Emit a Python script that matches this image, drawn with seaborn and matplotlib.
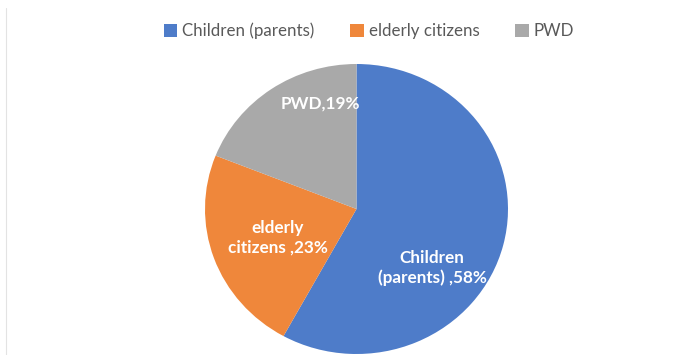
import matplotlib
matplotlib.use("Agg")
import matplotlib.pyplot as plt
from matplotlib.patches import Patch
from matplotlib.lines import Line2D
import seaborn as sns

categories = ["Children (parents)", "elderly citizens", "PWD"]
values = [58, 23, 19]
slice_labels = ["Children\n(parents) ,58%", "elderly\ncitizens ,23%", "PWD,19%"]
colors = ["#4E7CC9", "#EF873B", "#A9A9A9"]

sns.set_theme(style="white")
plt.rcParams["font.family"] = ["Lato", "DejaVu Sans"]

W, H = 696, 355
fig = plt.figure(figsize=(W / 100, H / 100), dpi=100)
fig.patch.set_facecolor("white")

# pie axes in pixel placement
left, right, top, bottom = 205, 508, 64, 354
ax = fig.add_axes([left / W, (H - bottom) / H, (right - left) / W, (bottom - top) / H])
wedges, _ = ax.pie(values, colors=colors, startangle=90, counterclock=False,
                   radius=1.0, wedgeprops=dict(linewidth=0))
ax.set_xlim(-1, 1)
ax.set_ylim(-1, 1)
ax.set_aspect("auto")
ax.axis("off")

label_pos = [(0.50, -0.41), (-0.52, -0.20), (-0.24, 0.73)]
for (x, y), txt in zip(label_pos, slice_labels):
    ax.text(x, y, txt, ha="center", va="center", color="white",
            fontsize=12.3, fontweight="bold", linespacing=1.25)

handles = [Patch(facecolor=c, edgecolor="none") for c in colors]
leg = fig.legend(handles, categories, loc="center", ncol=3,
                 bbox_to_anchor=(369 / W, 1 - 31 / H), frameon=False,
                 fontsize=12.2, handlelength=0.8, handleheight=0.8,
                 handletextpad=0.3, columnspacing=2.1)
for t in leg.get_texts():
    t.set_color("#595959")

fig.add_artist(Line2D([6 / W, 6 / W], [0, 1 - 8 / H], transform=fig.transFigure,
                      color="#E3E3E3", linewidth=0.8))

fig.savefig("out.png", dpi=100, facecolor="white")
